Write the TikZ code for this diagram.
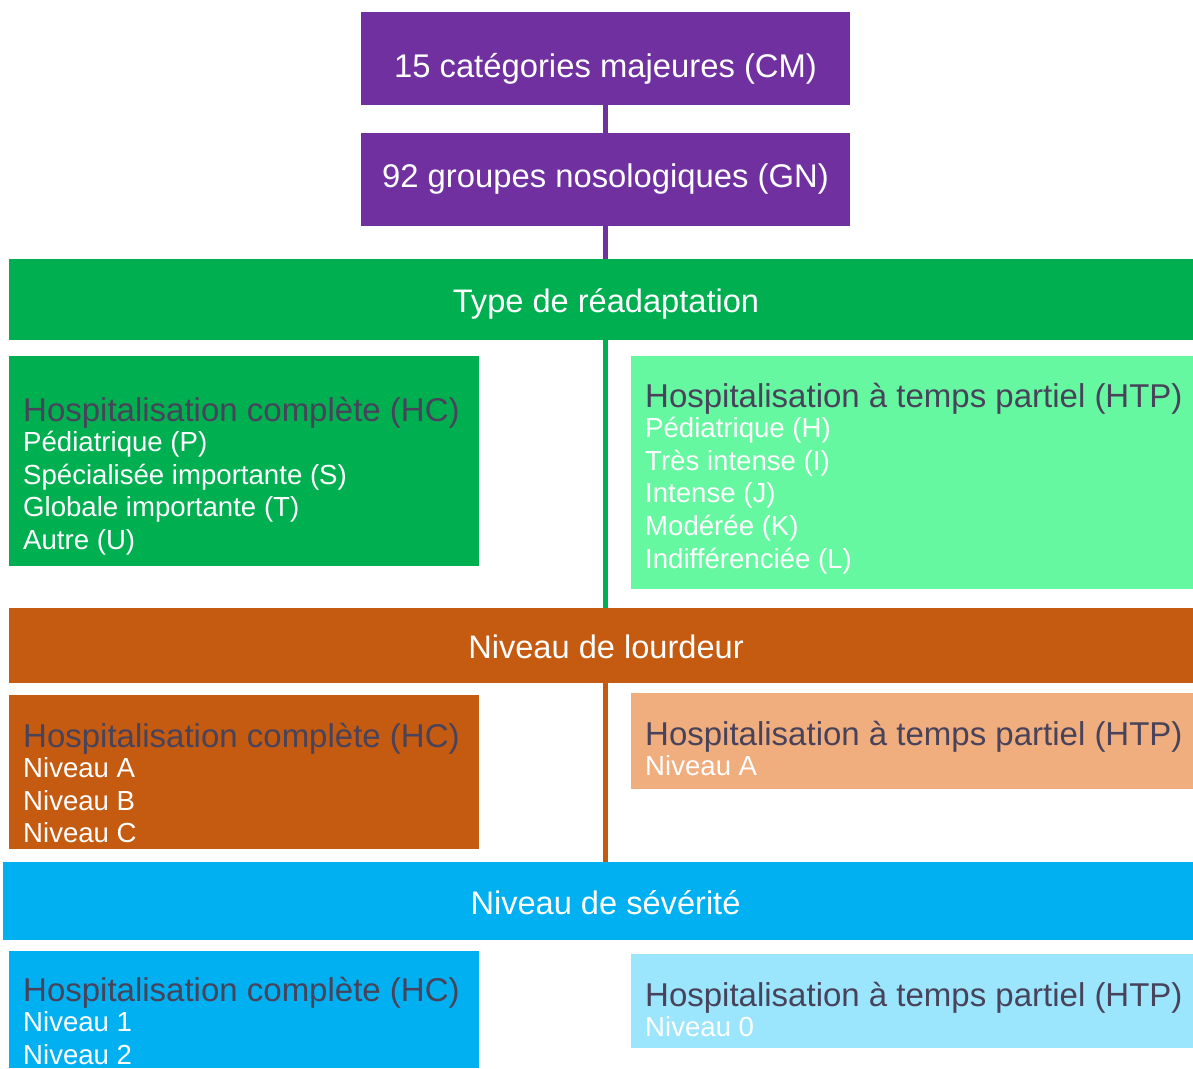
\documentclass[tikz,border=0pt]{standalone}
\usepackage{fontspec}
\setmainfont{Liberation Sans}
\usetikzlibrary{calc}
\definecolor{cmviolet}{HTML}{7030A0}
\definecolor{hcvert}{HTML}{00B050}
\definecolor{htpvert}{HTML}{66F8A0}
\definecolor{hcorange}{HTML}{C55A11}
\definecolor{htporange}{HTML}{F0AD7D}
\definecolor{hcbleu}{HTML}{00B0F0}
\definecolor{htpbleu}{HTML}{9BE5FD}
\definecolor{titregris}{HTML}{48435A}
\tikzstyle{cblock} = [anchor=north west,fill=cmviolet,text=white,outer sep=0pt,minimum width=489pt,minimum height=93pt,font=\fontsize{32.8}{38}\selectfont]
\tikzstyle{band} = [anchor=north west,text=white,outer sep=0pt,text height=26pt,text depth=0pt,font=\fontsize{32.6}{38}\selectfont]
\tikzstyle{hcblock} = [anchor=north west,outer sep=0pt,minimum width=470pt]
\tikzstyle{htpblock} = [anchor=north west,outer sep=0pt,minimum width=575pt]
\tikzstyle{btext} = [anchor=north west,align=left,inner sep=0pt,text=white,font=\fontsize{27.6}{32.8}\selectfont]
\tikzstyle{link} = [line width=5pt]
\newcommand{\titre}[1]{{\fontsize{33}{33}\selectfont\color{titregris}#1}\\[-3pt]}
\begin{document}
\begin{tikzpicture}[x=1pt,y=-1pt]
  \useasboundingbox (0,0) rectangle (1193,1068);
  % Categories and groups
  \node[cblock,text height=38pt,text depth=0pt] (cm) at (361,12) {15 catégories majeures (CM)};
  \node[cblock] (gn) at (361,133) {92 groupes nosologiques (GN)};
  % Type de readaptation
  \node[band,fill=hcvert,minimum width=1194pt,minimum height=81pt] (type) at (9,259) {Type de réadaptation};
  \node[hcblock,fill=hcvert,minimum height=210pt] (hctype) at (9,356) {};
  \node[htpblock,fill=htpvert,minimum height=233pt] (htptype) at (631,356) {};
  \node[btext] (hctypetxt) at (23,397) {\titre{Hospitalisation complète (HC)}Pédiatrique (P)\\Spécialisée importante (S)\\Globale importante (T)\\Autre (U)};
  \node[btext] (htptypetxt) at (645,383) {\titre{Hospitalisation à temps partiel (HTP)}Pédiatrique (H)\\Très intense (I)\\Intense (J)\\Modérée (K)\\Indifférenciée (L)};
  % Niveau de lourdeur
  \node[band,fill=hcorange,minimum width=1194pt,minimum height=75pt] (lourdeur) at (9,608) {Niveau de lourdeur};
  \node[hcblock,fill=hcorange,minimum height=154pt] (hclourd) at (9,695) {};
  \node[htpblock,fill=htporange,minimum height=96pt] (htplourd) at (631,693) {};
  \node[btext] (hclourdtxt) at (23,723) {\titre{Hospitalisation complète (HC)}Niveau A\\Niveau B\\Niveau C};
  \node[btext] (htplourdtxt) at (645,721) {\titre{Hospitalisation à temps partiel (HTP)}Niveau A};
  % Niveau de severite
  \node[band,fill=hcbleu,minimum width=1205pt,minimum height=78pt] (severite) at (3,862) {Niveau de sévérité};
  \node[hcblock,fill=hcbleu,minimum height=117pt] (hcsev) at (9,951) {};
  \node[htpblock,fill=htpbleu,minimum height=94pt] (htpsev) at (631,954) {};
  \node[btext] (hcsevtxt) at (23,977) {\titre{Hospitalisation complète (HC)}Niveau 1\\Niveau 2};
  \node[btext] (htpsevtxt) at (645,982) {\titre{Hospitalisation à temps partiel (HTP)}Niveau 0};
  % Links
  \draw[link,cmviolet] (cm) -- (gn);
  \draw[link,cmviolet] (gn) -- (gn.south |- type.north);
  \draw[link,hcvert] (gn.south |- type.south) -- (gn.south |- lourdeur.north);
  \draw[link,hcorange] (gn.south |- lourdeur.south) -- (gn.south |- severite.north);
\end{tikzpicture}
\end{document}
